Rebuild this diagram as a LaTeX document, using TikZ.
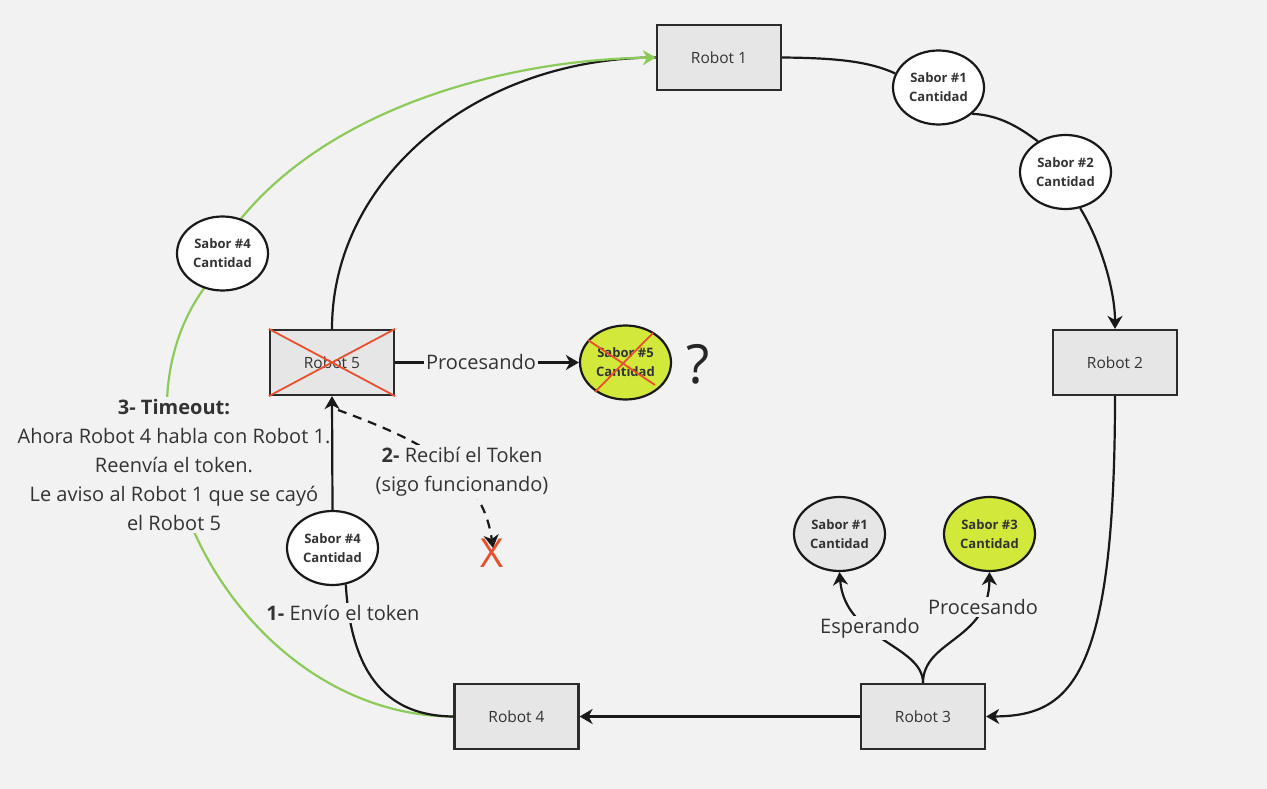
\documentclass[tikz,border=0pt]{standalone}
\usepackage{fontspec}
\setmainfont{Open Sans}
\usetikzlibrary{arrows.meta,calc,shapes.geometric}
\pgfdeclarelayer{bglayer}
\pgfsetlayers{bglayer,main}
\definecolor{bgc}{RGB}{242,242,242}
\definecolor{boxfill}{RGB}{230,230,230}
\definecolor{boxdraw}{RGB}{43,43,43}
\definecolor{txtc}{RGB}{51,51,51}
\definecolor{greenl}{RGB}{140,202,90}
\definecolor{lime}{RGB}{210,232,59}
\definecolor{redx}{RGB}{232,80,45}
\tikzset{
  robot/.style={draw=boxdraw, line width=2.2pt, fill=boxfill, minimum width=124pt, minimum height=65pt, inner sep=0pt, text=txtc, font=\fontsize{15.5}{18}\selectfont},
  sabor/.style={ellipse, draw=black!90, line width=2.2pt, fill=white, minimum width=91pt, minimum height=74pt, inner sep=0pt, align=center, text=txtc, font=\fontsize{13}{19}\selectfont\bfseries},
  conn/.style={draw=black!90, line width=2.2pt},
  arr/.style={-{Stealth[length=13pt,width=15pt,inset=4pt]}},
  greenc/.style={draw=greenl, line width=2.2pt},
  lbl/.style={fill=bgc, inner sep=2pt, align=center, text=txtc, font=\fontsize{20}{29}\selectfont},
  crossx/.style={draw=redx, line width=1.8pt},
}
\begin{document}
\begin{tikzpicture}[x=1pt,y=1pt]
\useasboundingbox (0,0) rectangle (1267,-789);

% timeout label (drawn before the nodes so that the ellipse lies on top)
\node[lbl] (t3) at (174,-465) {\textbf{3- Timeout:}\\Ahora Robot 4 habla con Robot 1.\\Reenvía el token.\\Le aviso al Robot 1 que se cayó\\el Robot 5};

% nodes
\node[robot] (r1) at (719,-57.5) {Robot 1};
\node[robot] (r2) at (1115,-362.5) {Robot 2};
\node[robot] (r3) at (923,-716.5) {Robot 3};
\node[robot] (r4) at (516.5,-716.5) {Robot 4};
\node[robot] (r5) at (332,-362.5) {Robot 5};

\node[sabor] (s1) at (938.5,-87.5) {Sabor \#1\\Cantidad};
\node[sabor] (s2) at (1065.5,-172) {Sabor \#2\\Cantidad};
\node[sabor] (s4a) at (222.5,-253.5) {Sabor \#4\\Cantidad};
\node[sabor, fill=lime] (s5) at (625.5,-362.5) {Sabor \#5\\Cantidad};
\node[sabor] (s4b) at (332.5,-548) {Sabor \#4\\Cantidad};
\node[sabor, fill=boxfill] (s1g) at (839.5,-534) {Sabor \#1\\Cantidad};
\node[sabor, fill=lime] (s3) at (989.5,-534) {Sabor \#3\\Cantidad};

% red crosses
\draw[crossx] (r5.north west) -- (r5.south east) (r5.south west) -- (r5.north east);
\draw[crossx] (588,-340) -- (655,-385) (595,-392) -- (653,-333);

% background layer: fill, black Robot5->Robot1 curve, green timeout path
\begin{pgfonlayer}{bglayer}
\fill[bgc] (0,0) rectangle (1267,-789);
\draw[conn] (r5.north) .. controls (332,-180) and (474,-58) .. (r1.west);
\draw[greenc] (r4.west) .. controls (240,-716) and (95,-440) .. (s4a.-118);
\draw[greenc, arr] (s4a.62) .. controls (330,-110) and (500,-60) .. (r1.west);
\end{pgfonlayer}

% black connectors
\draw[conn] (r1.east) .. controls (840,-58) and (870,-62) .. (s1.162);
\draw[conn] (s1.-38) .. controls (1000,-115) and (1020,-128) .. (s2.132);
\draw[conn, arr] (s2.-68) .. controls (1100,-240) and (1115,-290) .. (r2.north);
\draw[conn, arr] (r2.south) .. controls (1115,-680) and (1070,-716) .. (r3.east);
\draw[conn, arr] (r3.west) -- (r4.east);
\draw[conn] (r4.west) .. controls (400,-716) and (352,-690) .. (s4b.-70);
\draw[conn, arr] (s4b.north) -- (r5.south);

% Robot 5 -> Sabor 5
\draw[conn, arr] (r5.east) -- (s5.west);
\node[lbl] (p5) at (481,-362) {Procesando};
\node[text=black!85, font=\fontsize{54}{54}\selectfont, inner sep=0pt] (q) at (698,-364) {?};

% dashed token
\coordinate (dstart) at (338,-410);
\node[text=redx, font=\fontsize{40}{40}\selectfont, inner sep=0pt] (xx) at (492,-553) {X};
\coordinate (xtip) at ($(xx.center)+(1,5)$);
\draw[conn, dashed, dash pattern=on 9pt off 7pt, arr] (dstart) .. controls (420,-440) and (482,-470) .. (xtip);
\node[lbl] (l2) at (462,-472) {\textbf{2-} Recibí el Token\\(sigo funcionando)};

% label 1
\node[lbl] (l1) at (343,-613) {\textbf{1-} Envío el token};

% Robot 3 -> sabores
\draw[conn, arr] (r3.north) .. controls (923,-645) and (845,-640) .. (s1g.south);
\draw[conn, arr] (r3.north) .. controls (923,-640) and (989,-640) .. (s3.south);
\node[lbl] (esp) at (870,-628) {Esperando};
\node[lbl] (pr3) at (983,-607) {Procesando};
\end{tikzpicture}
\end{document}
